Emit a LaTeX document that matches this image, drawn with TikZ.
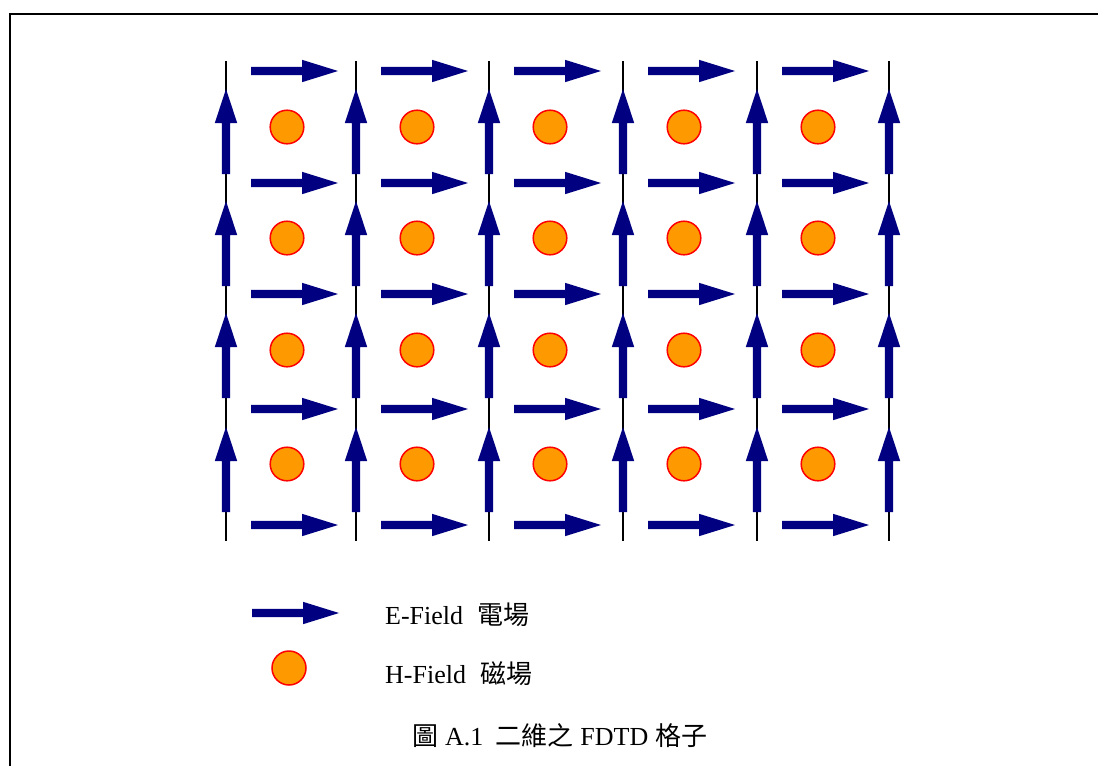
\documentclass[tikz,border=0pt]{standalone}
\usepackage{fontspec}
\setmainfont{Liberation Serif}
\newfontfamily\cjk{Noto Sans CJK TC}
\definecolor{navyarrow}{RGB}{0,0,128}
\definecolor{hfill}{RGB}{255,153,0}
\newcommand\hEarrow[2]{%
  \fill[efield] (#1,#2-4.2) -- ++(51,0) -- ++(0,-7) -- ++(36,11.2) -- ++(-36,11.2) -- ++(0,-7) -- ++(-51,0) -- cycle;}
\newcommand\vEarrow[2]{%
  \fill[efield] (#1-4.2,#2) -- (#1-4.2,#2-51) -- (#1-11.2,#2-51) -- (#1,#2-85) -- (#1+11.2,#2-51) -- (#1+4.2,#2-51) -- (#1+4.2,#2) -- cycle;}
\begin{document}
\begin{tikzpicture}[x=1pt,y=-1pt,
  efield/.style={fill=navyarrow},
  hcirc/.style={fill=hfill,draw=red,line width=1.5pt},
  gridline/.style={draw=black,line width=1.3pt},
  lbl/.style={anchor=base west,inner sep=0pt,font=\fontsize{26}{30}\selectfont}]
\useasboundingbox (0,0) rectangle (1098,766);
\draw[line width=2pt] (10,766) -- (10,13.5) -- (1098,13.5);
% grid lines
\foreach \x in {226,356,489,623,757,889}{
  \draw[gridline] (\x,61) -- (\x,541);
}
% vertical E arrows
\foreach \x in {226,356,489,623,757,889}{
  \foreach \b in {174,286,398,512}{
    \vEarrow{\x}{\b}
  }
}
% horizontal E arrows
\foreach \x in {226,356,489,623,757}{
  \foreach \y in {71,183,294,409,525}{
    \hEarrow{\x+25}{\y}
  }
}
% H circles
\foreach \x in {226,356,489,623,757}{
  \foreach \y in {127,238,350,464}{
    \draw[hcirc] (\x+61,\y) circle[radius=16.8pt];
  }
}
% legend
\hEarrow{252}{613}
\draw[hcirc] (289,668) circle[radius=17pt];
\node[lbl] (elabel) at (385,624) {E-Field\hspace{14pt}{\cjk 電場}};
\node[lbl] (hlabel) at (385,683) {H-Field\hspace{14pt}{\cjk 磁場}};
\node[lbl] (caption) at (412,745) {{\cjk 圖}\hspace{7pt}A.1\hspace{12pt}{\cjk 二維之}\hspace{7pt}FDTD\hspace{7pt}{\cjk 格子}};
\end{tikzpicture}
\end{document}
